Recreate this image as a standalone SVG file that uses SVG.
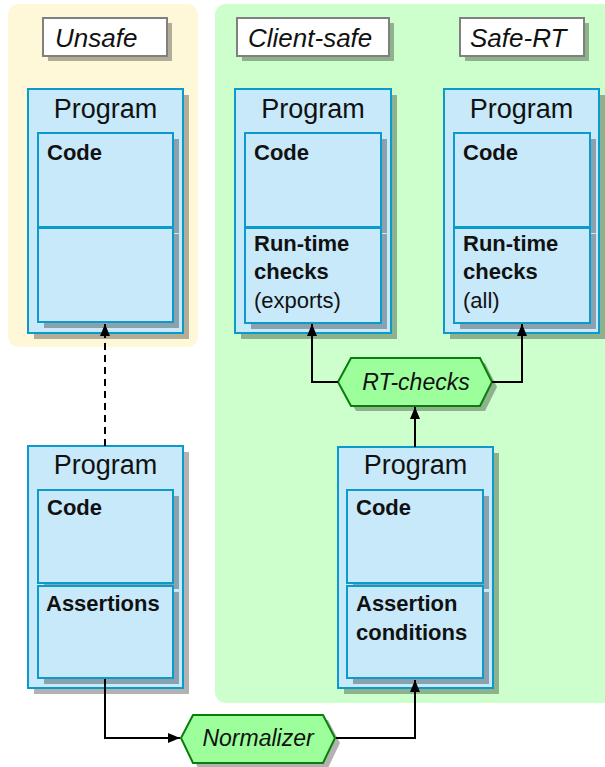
<svg xmlns="http://www.w3.org/2000/svg" width="605" height="767" viewBox="0 0 605 767">
<defs>
<style>
.sh{fill:#000;opacity:0.3}
.prog{fill:#c8e9f9;stroke:#0a9acc;stroke-width:2}
.inner{fill:#c8e9f9;stroke:#0a9acc;stroke-width:2}
.lbl{fill:#fff;stroke:#808080;stroke-width:2}
.hex{fill:#9cff9c;stroke:#0a7d0a;stroke-width:2}
.ttl{font-family:"Liberation Sans",Arial,sans-serif;font-size:27px;fill:#111;text-anchor:middle}
.b{font-family:"Liberation Sans",Arial,sans-serif;font-size:22px;font-weight:bold;fill:#111}
.r{font-family:"Liberation Sans",Arial,sans-serif;font-size:22px;fill:#111}
.it{font-family:"Liberation Sans",Arial,sans-serif;font-size:26px;font-style:italic;fill:#111}
.hit{font-family:"Liberation Sans",Arial,sans-serif;font-size:23px;font-style:italic;fill:#111;text-anchor:middle}
.c{fill:none;stroke:#000;stroke-width:2}
</style>
<marker id="ah" viewBox="0 0 12 12" refX="12" refY="6" markerWidth="12" markerHeight="12" markerUnits="userSpaceOnUse" orient="auto">
<path d="M0,1 L12,6 L0,11 Z" fill="#000"/>
</marker>
</defs>
<rect x="0" y="0" width="605" height="767" fill="#fff"/>
<g id="bg-unsafe"><rect x="8" y="4" width="190" height="343" rx="11" fill="#fff8d8"/></g>
<g id="bg-safe"><rect x="215" y="4" width="410" height="699" rx="11" fill="#ccffcc"/></g>

<g id="label-unsafe">
<rect class="sh" x="48" y="23" width="124" height="38"/>
<rect class="lbl" x="43" y="18" width="124" height="38"/>
<text class="it" x="55" y="47">Unsafe</text>
</g>
<g id="label-clientsafe">
<rect class="sh" x="242" y="23" width="152" height="38"/>
<rect class="lbl" x="237" y="18" width="152" height="38"/>
<text class="it" x="248" y="47">Client-safe</text>
</g>
<g id="label-safert">
<rect class="sh" x="465" y="23" width="124" height="38"/>
<rect class="lbl" x="460" y="18" width="124" height="38"/>
<text class="it" x="470" y="47">Safe-RT</text>
</g>

<g id="prog-unsafe">
<rect class="sh" x="34" y="95" width="155" height="244"/>
<rect class="prog" x="28" y="89" width="155" height="244"/>
<rect class="sh" x="44" y="139" width="135" height="94"/>
<rect class="sh" x="44" y="234" width="135" height="94"/>
<rect class="inner" x="38" y="133" width="135" height="94"/>
<rect class="inner" x="38" y="228" width="135" height="94"/>
<text class="ttl" x="105.5" y="118">Program</text>
<text class="b" x="47" y="160">Code</text>
</g>

<g id="prog-clientsafe">
<rect class="sh" x="241" y="95" width="156" height="244"/>
<rect class="prog" x="235" y="89" width="156" height="244"/>
<rect class="sh" x="251" y="139" width="136" height="94"/>
<rect class="sh" x="251" y="234" width="136" height="95"/>
<rect class="inner" x="245" y="133" width="136" height="94"/>
<rect class="inner" x="245" y="228" width="136" height="95"/>
<text class="ttl" x="313" y="118">Program</text>
<text class="b" x="254" y="160">Code</text>
<text class="b" x="254" y="251">Run-time</text>
<text class="b" x="254" y="279">checks</text>
<text class="r" x="254" y="308">(exports)</text>
</g>

<g id="prog-safert">
<rect class="sh" x="450" y="95" width="155" height="244"/>
<rect class="prog" x="444" y="89" width="155" height="244"/>
<rect class="sh" x="460" y="139" width="136" height="94"/>
<rect class="sh" x="460" y="234" width="136" height="95"/>
<rect class="inner" x="454" y="133" width="136" height="94"/>
<rect class="inner" x="454" y="228" width="136" height="95"/>
<text class="ttl" x="521.5" y="118">Program</text>
<text class="b" x="463" y="160">Code</text>
<text class="b" x="463" y="251">Run-time</text>
<text class="b" x="463" y="279">checks</text>
<text class="r" x="463" y="308">(all)</text>
</g>

<g id="prog-assert">
<rect class="sh" x="34" y="452" width="155" height="242"/>
<rect class="prog" x="28" y="446" width="155" height="242"/>
<rect class="sh" x="44" y="496" width="135" height="93"/>
<rect class="sh" x="44" y="592" width="135" height="92"/>
<rect class="inner" x="38" y="490" width="135" height="93"/>
<rect class="inner" x="38" y="586" width="135" height="92"/>
<text class="ttl" x="105.5" y="474">Program</text>
<text class="b" x="47" y="515">Code</text>
<text class="b" x="46" y="611">Assertions</text>
</g>

<g id="prog-cond">
<rect class="sh" x="344" y="453" width="155" height="241"/>
<rect class="prog" x="338" y="447" width="155" height="241"/>
<rect class="sh" x="353" y="496" width="136" height="93"/>
<rect class="sh" x="353" y="592" width="136" height="92"/>
<rect class="inner" x="347" y="490" width="136" height="93"/>
<rect class="inner" x="347" y="586" width="136" height="92"/>
<text class="ttl" x="415.5" y="474">Program</text>
<text class="b" x="356" y="515">Code</text>
<text class="b" x="356" y="611">Assertion</text>
<text class="b" x="356" y="640">conditions</text>
</g>

<g id="hex-rtchecks">
<polygon class="sh" points="343,387 356,363 485,363 497,387 485,411 356,411"/>
<polygon class="hex" points="338,382 351,358 480,358 492,382 480,406 351,406"/>
<text class="hit" x="416" y="390">RT-checks</text>
</g>

<g id="hex-normalizer">
<polygon class="sh" points="186,743 198,720 328,720 340,743 328,768 198,768"/>
<polygon class="hex" points="181,738 193,715 323,715 335,738 323,763 193,763"/>
<text class="hit" x="258" y="746">Normalizer</text>
</g>

<g id="connectors">
<path class="c" d="M105,446 L105,324" stroke-dasharray="7,5" marker-end="url(#ah)"/>
<path class="c" d="M105,679 L105,738 L180,738" marker-end="url(#ah)"/>
<path class="c" d="M336,738 L415,738 L415,680" marker-end="url(#ah)"/>
<path class="c" d="M415,447 L415,407" marker-end="url(#ah)"/>
<path class="c" d="M338,382 L312,382 L312,324" marker-end="url(#ah)"/>
<path class="c" d="M492,382 L522,382 L522,324" marker-end="url(#ah)"/>
</g>
</svg>
